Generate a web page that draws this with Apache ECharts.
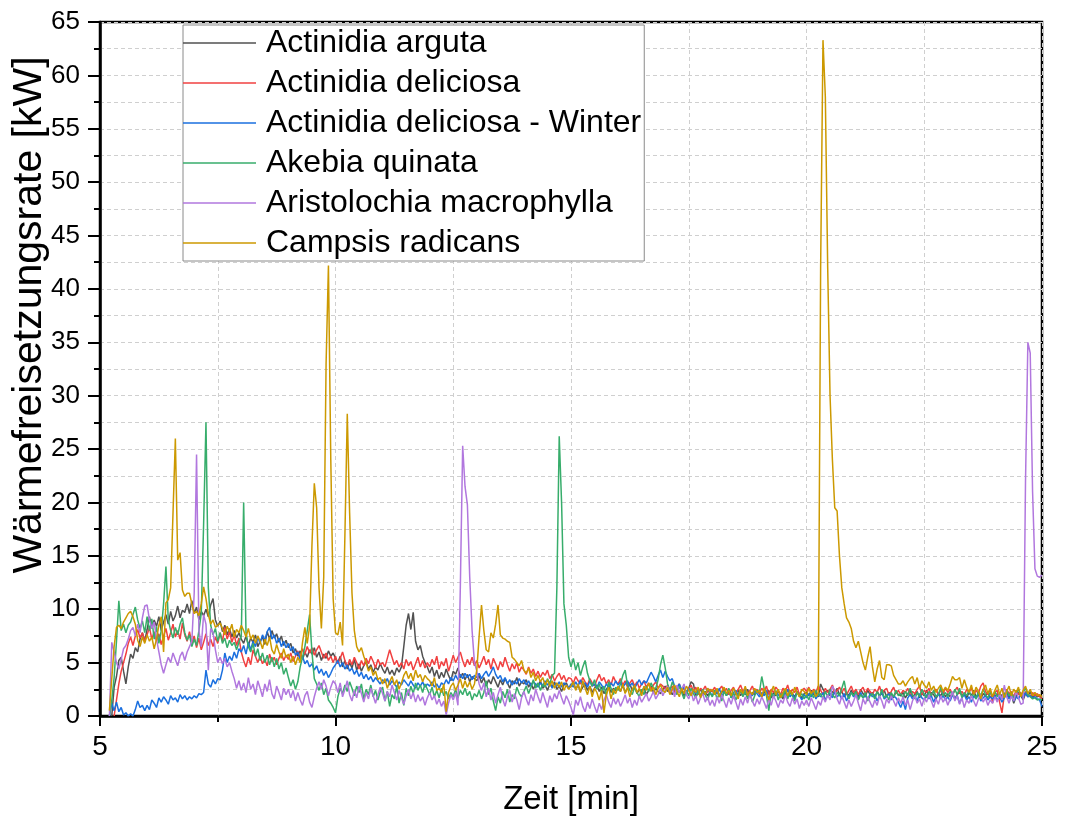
<!DOCTYPE html>
<html>
<head>
<meta charset="utf-8">
<title>Wärmefreisetzungsrate</title>
<script src="https://cdn.jsdelivr.net/npm/echarts@6/dist/echarts.min.js"></script>
<style>
  html, body { margin: 0; padding: 0; background: #ffffff; }
  #chart { width: 1065px; height: 821px; }
</style>
</head>
<body>
<div id="chart"></div>
<script>
// Heat release rate, sampled every 0.05 min (3 s) from 5.00 to 25.00 min.
const TIME_START = 5.0;
const TIME_STEP = 0.05;

const seriesNames = [
  'Actinidia arguta',
  'Actinidia deliciosa',
  'Actinidia deliciosa - Winter',
  'Akebia quinata',
  'Aristolochia macrophylla',
  'Campsis radicans'
];

const seriesColors = ['#515151', '#F14040', '#1A6FDF', '#37AD6B', '#B177DE', '#CC9900'];

const xTicks = [5, 10, 15, 20, 25];
const yTicks = [0, 5, 10, 15, 20, 25, 30, 35, 40, 45, 50, 55, 60, 65];

// one row per minute (20 samples), null = before ignition
const actinidiaArguta = [
  null,null,null,null,null,0.0,2.7,3.7,5.2,5.5,4.2,3.0,4.6,5.8,5.4,6.4,6.0,7.2,7.8,7.0,
  8.1,9.3,8.2,9.0,8.4,9.3,8.0,8.8,9.5,8.6,9.8,8.9,9.4,10.3,9.2,9.9,9.7,10.5,9.6,10.8,
  9.6,10.2,9.0,9.8,9.4,10.0,9.3,10.4,11.0,9.0,8.4,8.9,7.9,8.5,7.6,8.2,7.4,8.0,7.3,7.8,
  7.2,6.8,7.5,6.6,7.3,6.9,7.6,6.5,7.0,7.4,6.7,7.9,7.2,8.0,7.3,7.7,6.9,7.5,6.6,7.1,
  6.4,6.8,5.9,6.3,5.6,6.1,5.3,6.0,5.5,6.2,5.8,6.4,5.5,6.0,5.2,5.8,5.4,6.1,5.6,5.9,
  5.4,5.0,5.6,4.6,5.2,4.4,5.0,4.5,5.3,4.3,4.9,4.2,4.7,5.1,4.4,4.8,4.1,4.6,4.3,4.9,
  4.4,4.0,4.6,3.9,4.3,3.8,4.5,4.1,4.6,6.5,8.5,9.6,8.1,9.7,7.0,6.2,6.6,5.6,5.0,4.6,
  4.0,4.6,3.7,4.3,3.5,4.1,3.6,4.4,3.8,3.3,4.2,3.9,4.5,3.6,4.0,3.4,3.9,3.2,3.7,3.5,
  3.3,3.8,3.1,3.6,2.8,3.4,3.0,3.7,3.2,2.7,3.4,2.9,3.5,3.1,2.6,3.3,3.0,3.6,2.8,3.2,
  3.0,3.4,2.7,3.1,2.5,3.0,2.8,3.3,2.6,2.9,2.4,3.0,2.7,3.2,2.5,2.8,2.3,2.9,3.1,2.6,
  2.8,3.2,2.5,2.9,2.3,2.7,3.0,2.4,2.8,2.2,2.6,2.9,2.3,2.7,2.1,2.5,2.8,2.2,2.6,2.4,
  2.7,2.3,2.9,2.2,2.6,3.0,2.4,2.8,2.1,2.5,2.2,2.7,2.0,2.4,2.8,2.2,2.6,2.3,2.1,2.5,
  2.8,2.3,2.6,2.0,2.4,2.7,2.2,2.5,1.9,2.3,2.6,3.2,3.0,1.8,2.2,2.5,2.0,2.3,1.9,2.2,
  2.4,2.0,2.3,1.8,2.2,2.5,1.9,2.3,2.1,1.7,2.2,2.4,1.9,2.3,2.0,2.5,1.8,2.2,2.0,2.4,
  2.1,1.8,2.3,2.0,2.4,1.7,2.2,1.9,2.3,2.0,1.6,2.2,1.9,2.4,2.1,1.8,2.3,2.0,1.7,2.1,
  2.2,1.9,2.4,2.0,2.2,1.8,3.0,2.5,2.2,2.4,1.9,2.3,2.1,2.6,2.0,2.3,1.8,2.2,1.9,2.4,
  2.0,2.3,1.8,2.5,2.1,1.9,2.4,2.0,2.2,1.7,2.3,1.9,2.1,2.4,1.8,2.2,2.0,1.7,2.3,2.0,
  1.9,2.2,1.7,2.1,2.4,1.8,2.0,2.3,1.7,2.1,1.9,2.4,1.8,2.2,2.0,1.6,2.1,1.9,2.3,1.8,
  2.1,1.8,2.2,1.6,2.0,2.3,1.9,2.1,1.7,2.2,1.9,2.4,1.8,2.0,1.6,2.1,1.9,2.2,1.7,2.0,
  1.8,2.1,1.6,2.0,1.9,2.3,1.7,2.0,1.2,1.8,2.2,1.9,1.5,2.1,1.8,2.3,1.7,2.0,1.8,1.9,
  1.7
];

const actinidiaDeliciosa = [
  null,null,null,null,null,null,0.0,1.5,3.0,4.2,5.0,5.8,6.8,7.4,6.6,7.5,8.1,7.3,7.8,7.0,
  7.6,8.3,7.2,7.9,7.0,7.7,6.7,7.5,8.2,7.1,7.8,8.6,7.4,8.0,7.2,8.7,7.6,7.0,7.9,6.8,
  7.5,6.4,7.3,6.2,6.9,7.7,6.6,7.2,6.5,7.4,6.8,7.8,7.0,8.3,7.2,7.9,6.9,7.6,6.6,7.3,
  6.0,5.2,4.6,5.5,4.8,6.2,5.6,5.0,5.6,4.9,5.3,4.7,5.8,5.1,5.5,4.8,5.4,5.9,5.2,5.7,
  5.3,5.9,5.1,5.6,6.1,5.4,6.3,5.8,6.5,5.9,6.4,5.7,6.2,6.6,6.0,5.4,5.9,5.2,5.6,5.0,
  5.6,4.9,5.4,6.0,5.2,4.6,5.3,4.8,5.5,5.0,4.4,5.2,4.7,5.4,4.9,5.6,5.1,4.5,5.3,4.8,
  5.0,4.6,5.4,6.2,5.5,4.8,5.2,4.6,5.0,4.4,5.3,4.7,5.1,4.3,4.9,5.5,4.6,5.2,4.5,5.0,
  4.6,5.3,4.8,5.6,4.4,5.1,4.7,5.4,4.2,4.9,5.7,5.0,5.5,6.0,5.2,4.6,5.3,4.8,5.5,4.7,
  5.2,4.5,5.0,5.6,4.8,5.3,4.4,5.4,4.9,4.3,5.1,4.6,5.5,4.8,4.2,4.9,4.4,5.0,4.1,4.6,
  4.3,3.9,4.6,4.0,4.4,3.7,4.2,3.6,4.1,3.8,4.3,3.5,3.9,3.3,3.7,4.0,3.4,3.8,3.2,3.6,
  3.5,3.1,3.7,3.3,3.0,3.6,3.2,2.9,3.5,3.1,2.8,3.4,3.9,3.3,3.6,3.0,3.4,2.9,3.7,3.2,
  3.0,3.5,2.9,3.3,2.7,3.1,3.4,2.8,3.2,2.6,3.0,3.3,2.7,3.1,2.5,2.9,3.2,2.6,3.0,2.8,
  2.5,2.9,2.4,2.8,2.2,2.7,3.0,2.4,2.6,2.1,2.5,2.9,2.3,2.7,2.0,2.6,2.4,2.8,2.2,2.5,
  2.3,2.7,2.1,2.5,2.8,2.2,2.6,2.0,2.4,2.7,2.1,2.5,2.9,2.3,2.6,2.0,2.4,2.8,2.2,2.5,
  2.1,2.6,2.3,2.8,2.0,2.5,2.2,2.7,2.4,2.0,2.6,2.3,2.9,2.1,2.5,2.2,2.7,2.0,2.4,2.6,
  2.3,2.7,2.1,2.5,2.2,2.8,2.4,2.0,2.6,2.2,2.5,2.9,2.1,2.4,2.7,2.2,2.6,2.0,2.4,2.8,
  2.2,2.5,2.0,2.4,2.7,2.1,2.6,2.3,2.0,2.5,2.2,2.8,2.1,2.4,2.6,2.0,2.3,2.7,2.1,2.4,
  2.0,2.4,2.2,2.6,1.9,2.3,2.1,2.5,2.8,2.0,2.4,2.2,2.6,1.9,2.3,2.5,2.0,2.4,2.1,2.6,
  2.2,2.5,2.0,2.4,2.7,2.1,2.3,1.9,2.5,2.2,2.6,2.0,2.4,2.1,2.8,3.1,2.3,2.0,2.5,1.2,
  2.2,2.4,1.3,0.3,2.0,2.5,2.1,2.3,1.8,2.4,2.0,2.2,1.7,2.3,2.0,1.8,2.2,1.9,2.1,1.8,
  1.6
];

const actinidiaDeliciosaWinter = [
  null,null,null,null,0.0,1.2,0.5,1.3,0.4,0.8,0.1,0.3,0.0,0.2,0.0,0.6,1.4,0.8,1.0,0.5,
  1.0,0.6,1.5,1.2,0.8,1.7,1.3,1.8,1.5,1.1,1.9,1.5,1.7,1.3,2.0,1.6,1.9,1.5,1.8,1.6,
  1.9,1.7,2.1,2.0,2.2,4.3,3.0,2.7,3.4,3.0,3.5,3.4,4.3,5.9,5.0,5.6,5.2,6.0,5.4,6.3,
  6.0,6.6,5.8,6.9,6.2,7.0,6.5,7.4,6.8,7.6,7.1,7.9,8.3,7.2,7.6,6.8,7.3,6.5,7.0,6.4,
  6.8,6.1,6.5,5.7,6.0,5.3,5.6,4.9,5.2,4.6,4.9,4.3,4.7,4.0,4.4,3.8,4.2,3.6,4.0,4.5,
  4.8,5.2,4.6,5.0,4.4,4.8,4.2,4.5,3.9,4.3,3.7,4.1,3.5,3.9,3.4,3.7,3.2,3.6,3.3,3.0,
  3.4,3.1,3.5,2.9,3.3,3.0,2.7,3.2,2.9,3.4,3.1,2.8,3.3,2.9,2.6,3.1,2.8,3.2,2.7,3.0,
  2.8,3.2,2.7,3.0,2.6,3.1,2.9,3.4,3.0,3.6,3.3,3.8,3.4,3.9,3.5,4.0,3.6,3.9,3.4,3.8,
  3.6,4.0,3.5,3.9,4.2,3.7,4.1,4.6,3.9,3.5,3.8,3.2,3.6,3.0,3.4,2.9,3.3,3.0,3.5,3.1,
  3.4,2.9,3.3,2.8,3.2,3.0,2.7,3.1,2.8,3.3,2.9,3.2,2.6,3.0,2.8,3.2,2.7,3.1,2.9,2.6,
  3.0,2.7,3.2,2.8,3.4,2.9,3.1,2.7,3.3,2.8,3.0,2.6,3.2,2.9,2.5,3.0,2.7,3.1,2.8,3.3,
  2.9,3.2,2.7,3.0,3.3,2.8,3.1,2.6,3.0,3.4,2.9,3.3,3.1,3.6,4.1,3.7,3.2,3.8,4.3,3.6,
  4.2,3.7,3.3,3.5,2.8,2.6,3.0,2.4,2.7,2.2,2.6,2.0,2.4,2.1,2.5,1.9,2.3,2.0,2.6,2.2,
  1.9,2.4,2.1,2.6,1.8,2.3,2.0,2.5,1.7,2.2,2.4,1.9,2.3,2.0,2.6,1.8,2.2,1.9,2.4,2.1,
  1.8,2.2,1.9,2.4,1.6,2.1,1.8,2.3,2.0,1.7,2.2,1.9,2.5,1.8,2.1,1.6,2.2,1.9,1.5,2.0,
  1.7,2.1,1.8,2.3,1.6,2.0,1.8,2.2,1.5,1.9,2.1,1.7,2.3,1.8,2.0,1.6,2.1,1.4,1.9,2.2,
  1.8,2.0,1.6,2.2,1.7,1.9,1.5,2.1,1.8,2.0,1.4,1.9,2.2,1.6,1.8,2.1,1.5,1.9,1.7,1.3,
  0.8,1.4,0.6,1.7,2.0,1.6,1.9,1.4,2.1,1.7,1.5,2.0,1.6,1.9,1.3,1.8,2.1,1.6,1.9,1.5,
  1.8,1.4,2.0,1.6,1.9,1.2,1.7,2.0,1.5,1.8,1.3,1.9,1.6,2.1,1.4,1.7,1.9,1.5,1.8,1.6,
  1.9,1.5,1.8,1.3,1.7,2.0,1.6,1.9,1.4,1.8,1.6,2.0,1.7,2.2,1.8,1.9,1.7,1.8,1.6,1.5,
  0.9
];

const akebiaQuinata = [
  null,null,null,null,0.0,1.5,3.6,7.0,10.8,8.0,8.6,7.8,8.5,8.8,9.5,10.2,9.0,8.2,8.9,7.8,
  9.3,8.0,9.1,7.2,8.4,6.8,8.0,10.5,14.0,9.0,8.0,7.3,8.3,7.6,8.6,9.2,7.8,7.1,7.6,6.5,
  7.2,6.6,8.0,9.6,18.0,27.5,12.0,8.5,7.6,8.2,7.0,7.8,6.8,7.3,6.4,7.1,6.6,6.9,6.2,6.9,
  7.5,20.0,7.8,6.5,6.0,6.8,5.6,6.3,5.2,5.9,5.0,5.7,4.8,5.5,4.6,5.4,4.4,5.0,3.9,4.5,
  3.6,2.8,3.4,2.5,3.2,4.6,5.5,6.5,8.0,9.5,6.0,3.5,3.0,2.4,3.1,2.0,2.6,1.5,1.2,0.8,
  0.3,1.8,2.6,2.1,2.9,2.3,3.2,2.6,1.9,2.8,2.2,3.0,1.6,2.5,2.0,2.9,1.8,2.4,1.5,2.3,
  2.7,1.4,2.3,0.9,2.0,1.6,2.8,1.2,2.2,1.0,2.6,1.9,2.8,2.1,3.1,2.4,2.9,2.2,3.0,2.5,
  2.0,2.7,1.8,2.4,1.7,2.6,1.9,2.3,1.6,2.2,1.8,2.5,1.7,2.4,2.0,2.6,1.9,2.3,1.5,2.1,
  1.8,2.4,1.6,2.2,3.3,2.0,2.6,1.4,0.5,1.8,1.2,2.3,1.7,2.5,1.3,2.0,1.6,2.7,2.1,1.8,
  2.3,2.8,2.1,2.7,3.4,2.6,3.1,2.4,3.0,2.7,3.5,3.0,3.8,4.0,12.0,26.2,20.0,10.5,8.5,5.5,
  4.6,5.4,4.3,5.0,3.8,4.6,5.2,4.0,3.3,2.8,3.4,2.5,3.0,2.2,2.8,1.9,3.2,2.6,2.0,2.7,
  2.4,3.0,3.8,4.3,2.9,2.4,2.0,2.7,2.2,1.8,2.5,2.0,2.8,2.3,3.1,2.6,2.6,3.4,4.8,5.7,
  4.5,3.0,2.4,3.2,2.6,2.0,2.8,2.2,1.6,2.4,1.9,2.6,2.1,1.7,2.3,1.8,2.5,2.0,1.5,2.2,
  1.8,2.4,1.6,2.1,1.4,2.3,1.9,2.6,1.7,2.2,1.5,2.0,2.5,1.8,2.3,1.6,2.1,1.3,1.9,2.4,
  2.2,3.7,2.6,1.9,0.5,2.2,1.7,2.4,1.5,2.1,1.8,2.5,1.6,2.2,1.9,1.4,2.3,1.8,2.1,1.6,
  2.0,1.5,2.2,1.7,2.4,1.9,2.1,1.6,2.3,1.8,2.5,2.0,1.7,2.2,1.9,2.6,3.3,2.1,1.6,2.2,
  1.9,2.3,1.5,2.0,1.7,2.2,1.4,1.9,2.1,1.6,2.3,1.8,2.5,1.7,2.0,1.5,2.2,1.8,2.4,1.9,
  2.1,1.7,2.3,1.9,2.6,2.0,1.6,2.2,1.8,2.5,2.0,1.7,2.3,1.9,2.4,1.8,2.0,2.7,1.9,2.2,
  1.8,2.3,1.9,2.5,2.0,2.6,1.7,2.2,1.9,2.4,1.8,2.1,1.6,2.3,1.9,2.5,2.0,1.7,2.2,1.9,
  2.3,1.8,2.1,1.6,2.0,2.4,1.9,2.2,1.7,2.1,2.5,1.9,2.2,2.6,2.0,1.8,1.6,1.7,1.5,1.6,
  1.5
];

const aristolochiaMacrophylla = [
  null,null,null,null,0.0,6.9,6.0,5.0,4.4,5.3,6.3,6.6,7.2,8.0,8.3,7.5,8.6,7.8,9.2,10.3,
  10.4,9.0,8.2,8.8,7.2,6.0,4.8,4.0,4.8,5.5,5.0,5.9,5.3,4.7,5.6,6.0,5.2,6.0,6.5,7.0,
  11.5,24.5,8.0,6.5,9.5,8.6,4.3,8.2,7.8,6.2,5.0,5.5,4.9,5.4,4.6,5.0,4.2,3.5,2.6,3.3,
  2.4,3.1,2.2,3.6,2.5,3.0,2.0,3.3,2.6,1.8,3.0,2.3,3.4,2.1,1.6,2.8,2.2,1.5,2.6,2.0,
  2.5,1.7,2.4,1.4,2.2,1.5,1.0,1.9,2.3,1.3,0.8,1.8,2.6,3.2,2.5,3.4,2.8,1.9,2.7,3.3,
  3.0,2.2,3.1,1.8,2.5,3.3,2.0,1.4,2.4,1.7,2.8,2.1,1.3,2.2,1.6,2.6,1.9,1.2,2.0,2.7,
  2.1,1.4,2.3,1.8,2.9,2.2,1.5,2.4,1.7,1.1,1.9,2.5,1.6,2.2,1.3,2.0,1.4,1.8,1.0,1.7,
  2.2,1.5,1.9,1.1,1.6,0.9,1.4,0.1,1.2,2.0,1.5,2.2,1.0,12.0,25.3,21.5,19.8,13.0,8.0,5.0,
  4.2,3.0,2.4,3.1,1.8,2.6,1.5,2.2,1.2,2.0,2.7,1.6,0.9,1.8,2.4,1.3,2.1,1.5,0.6,1.7,
  2.3,1.6,1.0,2.0,1.4,2.5,1.8,1.2,2.2,1.5,0.8,1.9,1.3,2.1,1.6,2.4,1.7,1.1,1.9,1.4,
  0.8,0.1,1.5,1.0,1.8,0.9,0.4,1.3,0.7,1.6,0.9,0.3,1.2,0.6,1.5,2.0,1.3,0.8,1.7,1.1,
  1.6,0.9,1.4,2.0,1.2,1.7,0.8,1.5,1.0,1.9,1.3,1.7,2.1,1.4,1.8,2.3,1.6,2.0,2.6,1.9,
  2.4,2.8,2.1,2.6,1.8,2.9,2.2,2.5,3.0,2.0,1.6,2.3,1.4,1.9,1.1,1.7,2.1,1.3,1.8,1.0,
  1.5,0.9,1.8,1.2,2.0,1.4,0.8,1.7,1.1,1.9,1.3,0.6,1.6,1.0,1.8,1.2,2.1,1.4,0.9,1.6,
  1.1,1.8,1.3,0.7,1.6,1.0,1.9,1.4,0.8,1.5,1.2,2.0,1.3,0.9,1.7,1.1,1.6,0.7,1.4,1.0,
  1.5,0.9,1.7,1.2,0.6,1.4,1.0,1.8,1.3,2.0,1.5,2.8,2.4,1.6,1.1,1.9,1.3,0.7,1.5,0.9,
  1.4,2.0,1.2,0.5,1.6,1.1,1.8,1.3,0.8,1.5,1.0,1.9,1.4,0.7,1.6,1.2,1.9,1.4,0.9,1.7,
  1.2,1.8,1.0,1.5,0.6,1.4,1.9,1.2,1.6,0.9,1.7,1.3,2.0,1.4,0.8,1.6,1.1,1.9,1.3,1.7,
  1.0,1.6,2.3,1.4,1.9,1.1,1.7,0.8,1.5,1.2,1.9,1.4,0.9,1.6,2.0,1.3,1.7,1.0,1.5,1.2,
  1.8,1.3,2.1,1.5,2.9,1.8,1.2,1.9,1.4,2.3,1.7,1.1,1.2,22.0,35.0,34.0,21.0,13.8,13.1,13.0,
  13.2
];

const campsisRadicans = [
  null,null,null,null,0.5,3.5,6.5,8.3,8.5,8.2,8.8,9.2,9.6,9.8,9.3,8.6,7.1,6.5,7.4,6.8,
  7.6,7.0,7.4,6.3,7.2,8.5,9.3,6.0,10.6,10.9,12.0,19.0,26.0,14.6,15.3,11.8,11.2,11.5,11.5,10.5,
  9.6,9.8,9.4,10.5,12.1,11.0,9.5,8.6,9.0,8.3,8.5,8.7,8.2,7.6,8.4,7.9,8.6,7.4,8.1,7.8,
  8.5,8.0,7.4,8.2,7.2,7.6,6.8,7.5,7.0,6.3,7.2,6.6,7.4,6.2,5.8,6.7,6.0,5.4,6.3,5.5,
  5.8,5.0,5.6,4.8,5.5,5.0,6.9,8.3,6.8,8.4,16.0,21.8,19.5,12.0,8.2,13.0,33.0,42.2,24.0,11.0,
  7.8,7.6,8.8,6.6,17.0,28.3,19.0,11.5,8.0,6.5,6.0,6.4,5.6,5.0,4.2,4.6,3.8,4.2,3.4,3.6,
  3.0,3.5,2.6,3.2,3.7,2.9,3.4,2.5,3.1,3.8,4.2,3.5,4.0,3.3,4.3,3.6,3.9,3.2,3.8,3.5,
  3.3,2.8,3.6,2.4,2.6,2.2,3.0,0.4,2.2,2.8,3.1,2.4,2.9,3.5,2.6,3.3,2.7,3.2,2.5,3.0,
  4.3,7.5,10.4,8.0,6.2,6.0,7.8,7.3,8.6,10.4,7.6,7.3,7.2,7.0,6.9,5.5,5.3,5.0,4.7,5.2,
  4.3,4.0,4.5,3.6,4.1,3.3,3.8,3.2,3.6,2.9,3.4,2.8,3.3,2.6,3.1,2.7,3.2,2.4,2.9,2.5,
  2.8,3.2,2.4,3.0,2.2,3.3,2.6,2.0,2.8,1.8,2.6,2.2,1.5,2.4,0.3,2.0,2.7,1.6,2.5,2.1,
  2.8,2.3,3.0,2.1,2.7,1.8,2.5,2.9,2.2,2.6,1.9,2.8,2.4,3.1,2.3,2.7,2.0,2.6,2.9,2.4,
  2.2,2.7,2.0,2.5,2.9,2.3,1.8,2.6,2.1,2.8,2.4,1.9,2.5,2.2,2.7,1.7,2.4,2.0,2.6,2.3,
  2.5,2.0,2.6,1.8,2.3,2.7,2.1,2.4,1.9,2.6,2.2,1.6,2.5,2.1,2.8,1.9,2.3,2.0,2.6,2.2,
  2.4,1.8,2.6,2.1,1.5,2.3,2.8,2.0,2.5,1.7,2.2,2.6,1.9,2.4,2.0,2.7,2.2,1.8,2.5,2.3,
  2.0,2.6,2.1,2.4,1.8,2.2,42.0,63.3,58.0,42.0,30.0,24.0,19.5,19.2,15.0,12.0,10.5,9.2,8.8,8.2,
  7.0,6.4,7.0,6.0,5.0,4.3,5.5,6.5,4.6,3.2,4.4,5.2,3.6,3.4,4.8,4.8,4.7,3.8,3.4,3.0,
  3.0,3.3,2.8,3.2,3.5,3.7,3.0,3.6,2.6,3.3,2.9,2.6,3.2,2.4,2.8,2.2,2.6,2.9,2.3,2.7,
  2.4,3.0,3.7,3.4,3.4,3.6,2.6,3.4,2.7,2.2,2.9,2.0,2.7,2.3,1.6,2.5,2.9,2.1,2.6,1.8,
  2.4,2.9,2.0,2.6,1.7,2.3,2.8,1.9,2.5,2.2,2.7,1.8,2.4,2.8,2.1,2.5,1.9,2.2,1.9,2.0,
  1.8
];

const seriesValues = [
  actinidiaArguta,
  actinidiaDeliciosa,
  actinidiaDeliciosaWinter,
  akebiaQuinata,
  aristolochiaMacrophylla,
  campsisRadicans
];

const FONT = '"Liberation Sans", Arial, Helvetica, sans-serif';

// pair each sample with its time stamp in minutes
function withTime(values) {
  return values.map((v, i) => [Number((TIME_START + i * TIME_STEP).toFixed(2)), v]);
}

const gridLine = { color: '#cfcfcf', width: 1, type: [4, 3] };

const chart = echarts.init(document.getElementById('chart'), null, { renderer: 'canvas' });

chart.setOption({
  animation: false,
  color: seriesColors,
  textStyle: { fontFamily: FONT },
  grid: {
    left: 100, right: 23, top: 22, bottom: 105,
    show: true, borderColor: '#000', borderWidth: 2.5, backgroundColor: 'transparent'
  },
  xAxis: {
    type: 'value',
    min: xTicks[0], max: xTicks[xTicks.length - 1], interval: xTicks[1] - xTicks[0],
    name: 'Zeit [min]', nameLocation: 'middle', nameGap: 67,
    nameTextStyle: { fontSize: 33, color: '#000', fontFamily: FONT },
    axisLine: { show: true, onZero: false, lineStyle: { color: '#000', width: 2.5 } },
    axisTick: { show: true, inside: false, length: 10, lineStyle: { color: '#000', width: 2 } },
    minorTick: { show: true, splitNumber: 2, length: 6, lineStyle: { color: '#000', width: 2 } },
    axisLabel: { fontSize: 28, color: '#000', margin: 17, fontFamily: FONT },
    splitLine: { show: true, lineStyle: gridLine },
    minorSplitLine: { show: true, lineStyle: gridLine }
  },
  yAxis: {
    type: 'value',
    min: yTicks[0], max: yTicks[yTicks.length - 1], interval: yTicks[1] - yTicks[0],
    axisLine: { show: true, onZero: false, lineStyle: { color: '#000', width: 2.5 } },
    axisTick: { show: true, inside: false, length: 12, lineStyle: { color: '#000', width: 2 } },
    minorTick: { show: true, splitNumber: 2, length: 6, lineStyle: { color: '#000', width: 2 } },
    axisLabel: { fontSize: 26, color: '#000', margin: 20, fontFamily: FONT },
    splitLine: { show: true, lineStyle: gridLine },
    minorSplitLine: { show: true, lineStyle: gridLine }
  },
  legend: {
    orient: 'vertical',
    left: 183, top: 25,
    padding: [0, 3, 0, 0],
    itemGap: 4,
    icon: 'rect',
    itemWidth: 73, itemHeight: 1.5,
    backgroundColor: '#fff',
    borderColor: '#8a8a8a', borderWidth: 1,
    textStyle: { fontSize: 32, color: '#000', fontFamily: FONT, lineHeight: 36, padding: [0, 0, 0, 5] },
    data: seriesNames
  },
  graphic: [{
    type: 'text',
    x: 30, y: 315,
    rotation: Math.PI / 2,
    style: {
      text: 'Wärmefreisetzungsrate [kW]',
      font: '41px ' + FONT,
      fill: '#000',
      textAlign: 'center',
      textVerticalAlign: 'middle'
    }
  }],
  series: seriesNames.map((name, k) => ({
    name: name,
    type: 'line',
    data: withTime(seriesValues[k]),
    symbol: 'none',
    showSymbol: false,
    connectNulls: false,
    clip: true,
    lineStyle: { width: 1.5, color: seriesColors[k] },
    itemStyle: { color: seriesColors[k] }
  }))
});
</script>
</body>
</html>
